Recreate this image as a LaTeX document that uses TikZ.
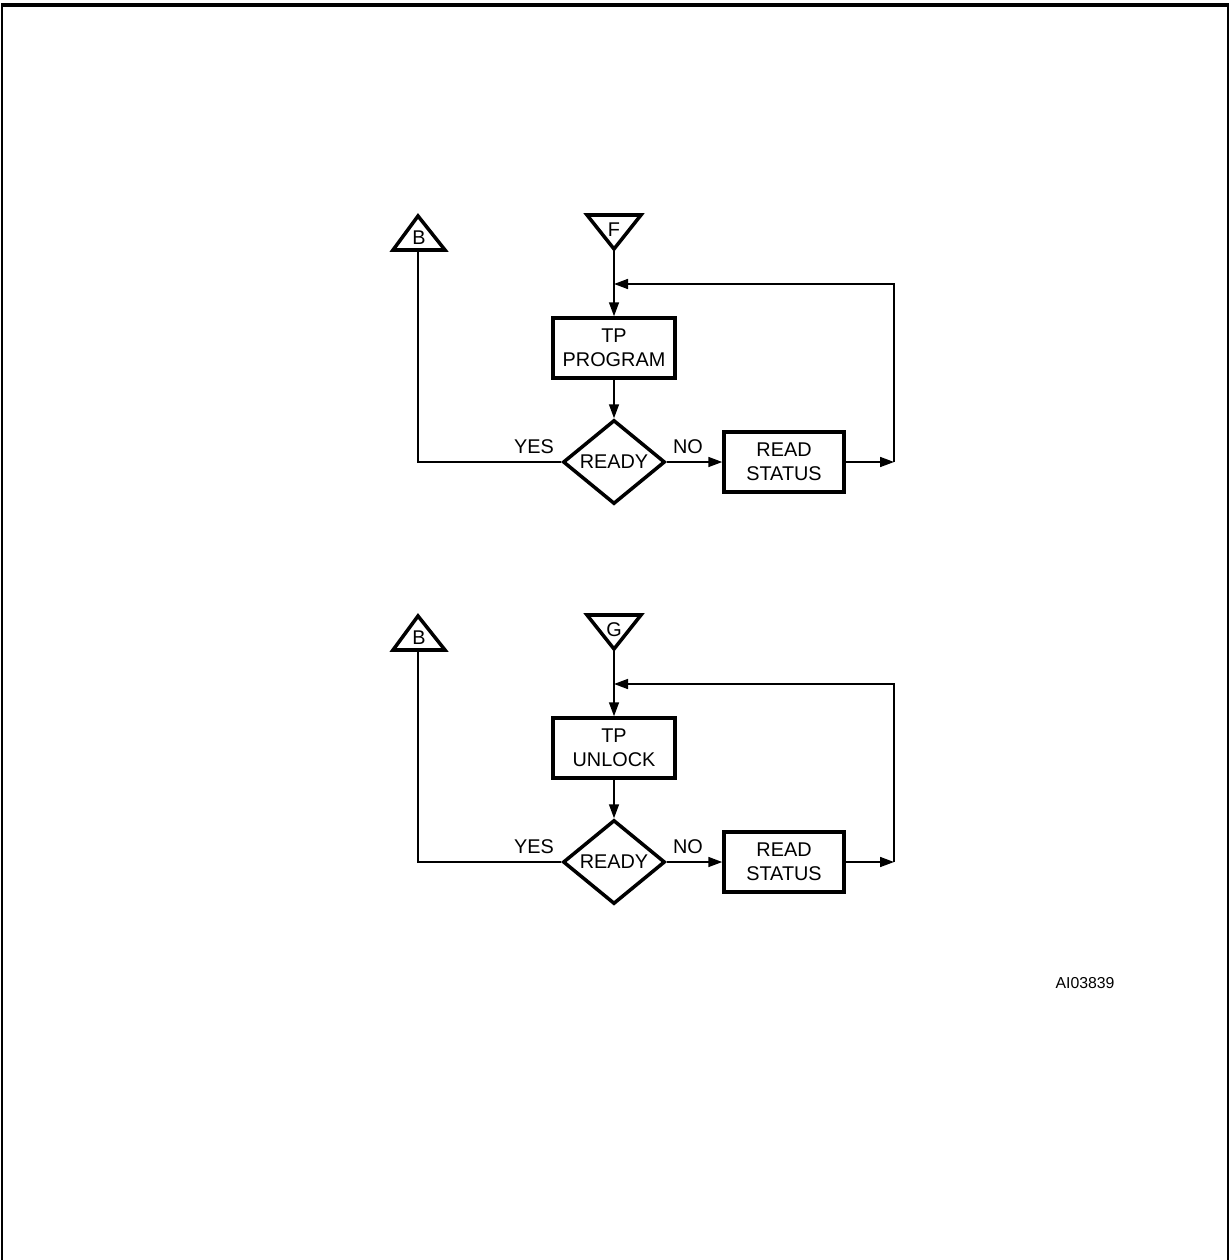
\documentclass[tikz,border=0pt]{standalone}
\usepackage{fontspec}
\setmainfont{Liberation Sans}
\usetikzlibrary{arrows.meta,shapes.geometric}

\begin{document}
\begin{tikzpicture}[x=0.02cm, y=-0.02cm,
  stepbox/.style={draw, line width=2pt, minimum width=2.44cm,
                  minimum height=1.2cm, inner sep=0pt, align=center,
                  font=\fontsize{11.3}{13.5}\selectfont},
  test/.style={diamond, draw, line width=2pt, aspect=1.2,
               minimum width=2.04cm, minimum height=1.68cm, inner sep=0pt,
               font=\fontsize{11.3}{13.5}\selectfont},
  offpage/.style={line width=2pt, line join=miter},
  tag/.style={inner sep=0pt, font=\fontsize{11.3}{13.5}\selectfont},
  flow/.style={line width=0.9pt},
  link/.style={flow, -{Triangle[length=2.8mm, width=2mm]}}
]
\useasboundingbox (0,0) rectangle (1231,1260);
% frame
\draw[line width=1.1pt] (2,1262) -- (2,5) -- (1228,5) -- (1228,1262);
\draw[line width=2.3pt] (1,5) -- (1229,5);

% first loop: program
\draw[offpage] (393,250) -- (418,216) -- (445,250) -- cycle;
\node[tag] (b1) at (419,238) {B};
\coordinate (b1in) at (418,250);
\draw[offpage] (587,215) -- (641,215) -- (614,249) -- cycle;
\node[tag] (f1) at (614,230) {F};
\coordinate (f1out) at (614,249);
\node[stepbox] (p1) at (614,348) {TP\\PROGRAM};
\node[test] (r1) at (614,462) {READY};
\node[stepbox, minimum width=2.4cm] (s1) at (784,462) {READ\\STATUS};
\coordinate (j1) at (614,284);
\coordinate (c1) at (894,462);
\node[tag] (yes1) at (534,447) {YES};
\node[tag] (no1) at (688,447) {NO};
\draw[flow] (f1out) -- (j1);
\draw[link] (j1) -- (p1);
\draw[link] (p1) -- (r1);
\draw[link] (r1) -- (s1);
\draw[link] (s1) -- (c1);
\draw[link] (c1) |- (j1);
\draw[flow] (r1.west) -| (b1in);

% second loop: unlock
\draw[offpage] (393,650) -- (418,616) -- (445,650) -- cycle;
\node[tag] (b2) at (419,638) {B};
\coordinate (b2in) at (418,650);
\draw[offpage] (587,615) -- (641,615) -- (614,649) -- cycle;
\node[tag] (g2) at (614,630) {G};
\coordinate (g2out) at (614,649);
\node[stepbox] (p2) at (614,748) {TP\\UNLOCK};
\node[test] (r2) at (614,862) {READY};
\node[stepbox, minimum width=2.4cm] (s2) at (784,862) {READ\\STATUS};
\coordinate (j2) at (614,684);
\coordinate (c2) at (894,862);
\node[tag] (yes2) at (534,847) {YES};
\node[tag] (no2) at (688,847) {NO};
\draw[flow] (g2out) -- (j2);
\draw[link] (j2) -- (p2);
\draw[link] (p2) -- (r2);
\draw[link] (r2) -- (s2);
\draw[link] (s2) -- (c2);
\draw[link] (c2) |- (j2);
\draw[flow] (r2.west) -| (b2in);

\node[inner sep=0pt, font=\fontsize{9}{11}\selectfont] (fig) at (1085,983) {AI03839};
\end{tikzpicture}
\end{document}
